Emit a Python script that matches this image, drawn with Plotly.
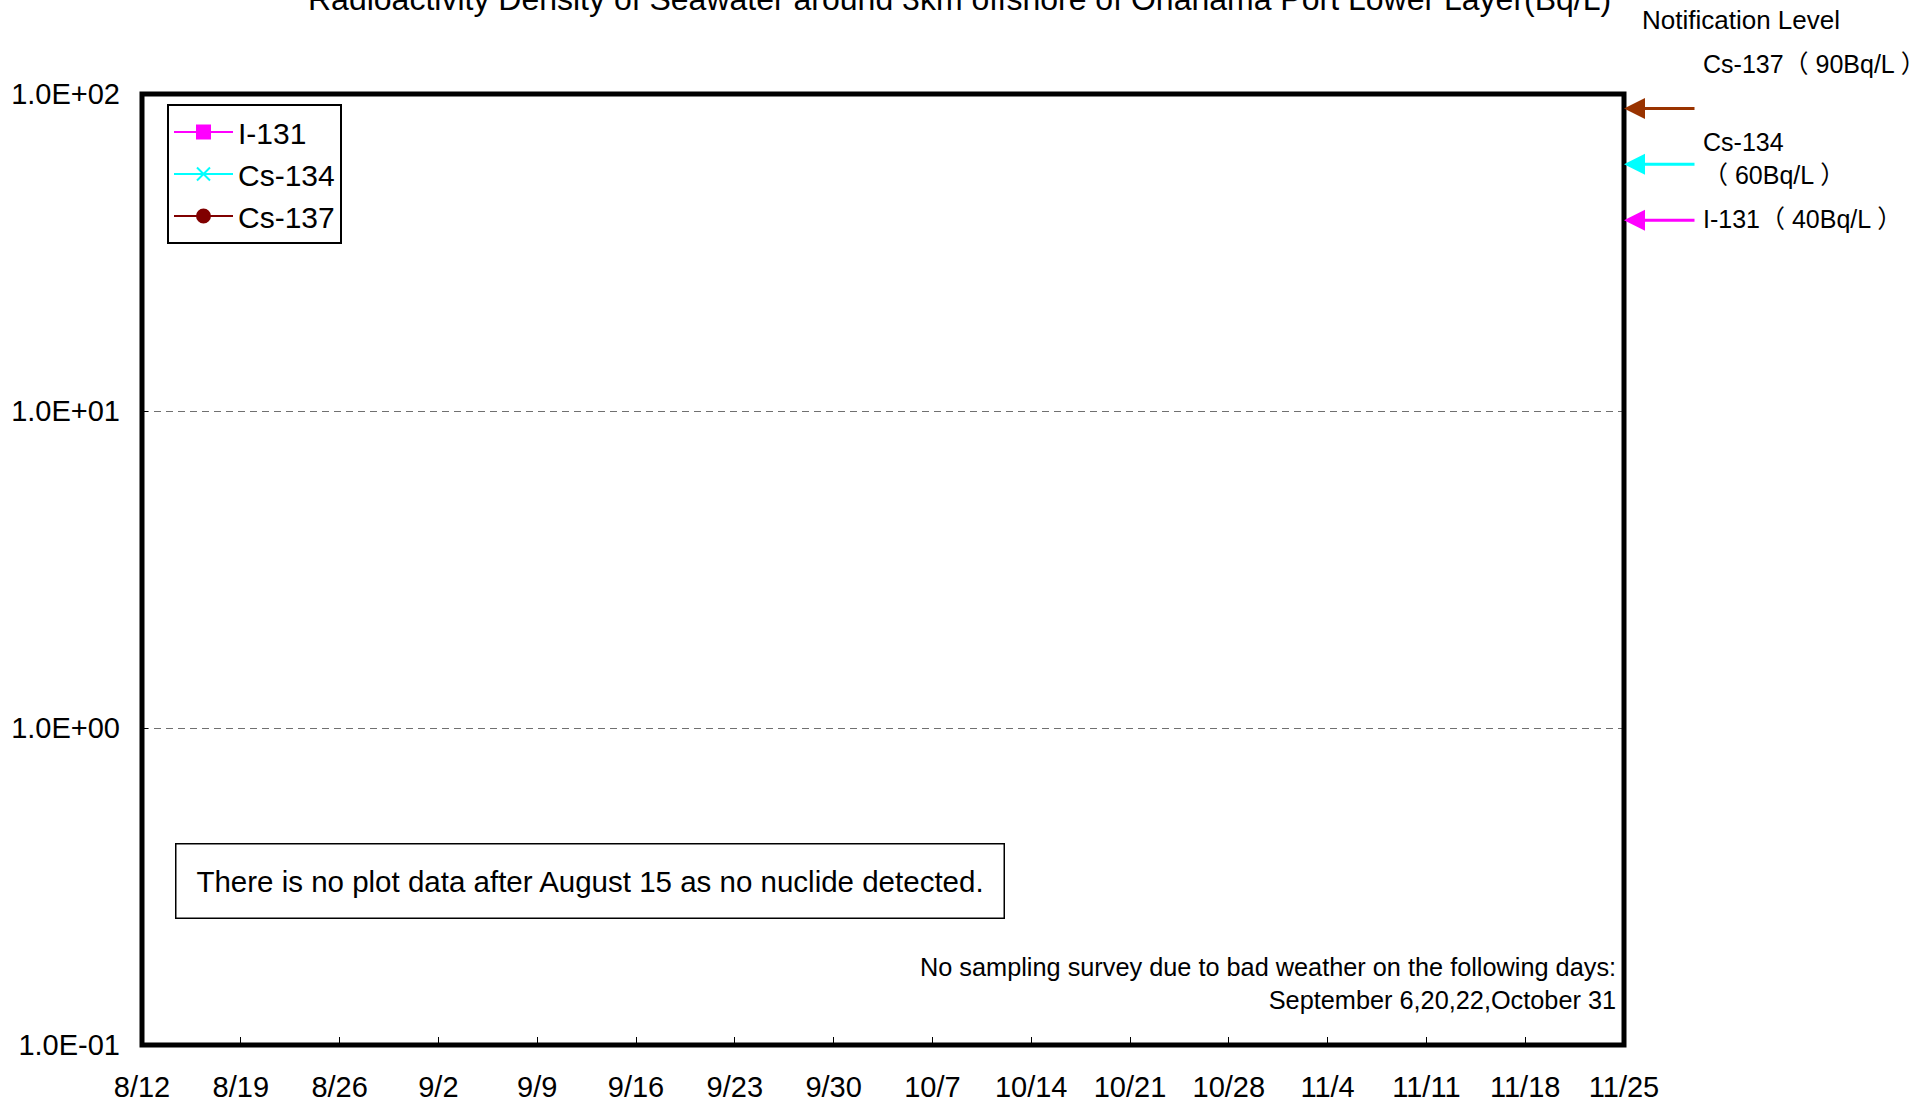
import math
import plotly.graph_objects as go

# ---------------- data ----------------
title_text = "Radioactivity Density of Seawater around 3km offshore of Onahama Port Lower Layer(Bq/L)"
series_names = ["I-131", "Cs-134", "Cs-137"]
# No nuclide detected after August 15 -> no plotted points in this window
i131_dates, i131_values = [None], [None]
cs134_dates, cs134_values = [None], [None]
cs137_dates, cs137_values = [None], [None]

x_tick_dates = ["2011-08-12", "2011-08-19", "2011-08-26", "2011-09-02", "2011-09-09",
                "2011-09-16", "2011-09-23", "2011-09-30", "2011-10-07", "2011-10-14",
                "2011-10-21", "2011-10-28", "2011-11-04", "2011-11-11", "2011-11-18",
                "2011-11-25"]
x_tick_labels = ["8/12", "8/19", "8/26", "9/2", "9/9", "9/16", "9/23", "9/30", "10/7",
                 "10/14", "10/21", "10/28", "11/4", "11/11", "11/18", "11/25"]
y_tick_vals = [0.1, 1, 10, 100]
y_tick_labels = ["1.0E-01", "1.0E+00", "1.0E+01", "1.0E+02"]

notif_nuclides = ["Cs-137", "Cs-134", "I-131"]
notif_levels = [90, 60, 40]
notif_labels = ["Cs-137（ 90Bq/L ）", "Cs-134<br>（ 60Bq/L ）", "I-131（ 40Bq/L ）"]

note_text = "There is no plot data after August 15 as no nuclide detected."
weather_text = "No sampling survey due to bad weather on the following days:<br>September 6,20,22,October 31"

# ---------------- layout helpers ----------------
FONT = "Liberation Sans, Arial, Noto Sans CJK JP, sans-serif"
W, H = 1932, 1105
L, R, T, B = 142, 308, 94, 60
PW, PH = W - L - R, H - T - B


def pxx(x):
    return (x - L) / PW


def pxy(y):
    return (H - B - y) / PH


colors = {"I-131": "#FF00FF", "Cs-134": "#00FFFF", "Cs-137": "#800000"}
arrow_colors = {"Cs-137": "#993300", "Cs-134": "#00FFFF", "I-131": "#FF00FF"}
symbols = {"I-131": "square", "Cs-134": "x-thin-open", "Cs-137": "circle"}

fig = go.Figure()
for name, xs, ys in [("I-131", i131_dates, i131_values),
                     ("Cs-134", cs134_dates, cs134_values),
                     ("Cs-137", cs137_dates, cs137_values)]:
    fig.add_trace(go.Scatter(
        x=xs, y=ys, name=name, mode="lines+markers",
        line=dict(color=colors[name], width=2),
        marker=dict(symbol=symbols[name], size=13, color=colors[name],
                    line=dict(color=colors[name], width=2)),
    ))

annotations = []
# title (cut at top as in reference)
annotations.append(dict(text=title_text, xref="paper", yref="paper",
                        x=pxx(959), y=pxy(-1), xanchor="center", yanchor="middle",
                        showarrow=False, font=dict(size=32, color="black", family=FONT)))
annotations.append(dict(text="Notification Level", xref="paper", yref="paper",
                        x=pxx(1640), y=pxy(20), xanchor="left", yanchor="middle",
                        showarrow=False, font=dict(size=26, color="black", family=FONT)))
label_y = {"Cs-137": 64, "Cs-134": 158, "I-131": 219}
for nuc, lvl, lab in zip(notif_nuclides, notif_levels, notif_labels):
    annotations.append(dict(text="", xref="paper", yref="y", x=1, y=math.log10(lvl),
                            ax=72, ay=0, axref="pixel", ayref="pixel",
                            showarrow=True, arrowhead=2, arrowsize=1.4, arrowwidth=3,
                            arrowcolor=arrow_colors[nuc]))
    annotations.append(dict(text=lab, xref="paper", yref="paper",
                            x=pxx(1701), y=pxy(label_y[nuc]), xanchor="left",
                            yanchor="middle", align="left", showarrow=False,
                            font=dict(size=25, color="black", family=FONT)))
annotations.append(dict(text=note_text, xref="paper", yref="paper",
                        x=pxx(589.5), y=pxy(880.5), xanchor="center", yanchor="middle",
                        width=825, height=71, borderpad=1, borderwidth=1.5,
                        bordercolor="black", bgcolor="white", showarrow=False,
                        font=dict(size=29.5, color="black", family=FONT)))
annotations.append(dict(text=weather_text, xref="paper", yref="paper",
                        x=pxx(1618), y=pxy(983), xanchor="right", yanchor="middle",
                        align="right", showarrow=False,
                        font=dict(size=25.3, color="black", family=FONT)))

fig.update_layout(
    width=W, height=H,
    margin=dict(l=L, r=R, t=T, b=B, pad=0, autoexpand=False),
    paper_bgcolor="white", plot_bgcolor="white",
    font=dict(family=FONT, size=29, color="black"),
    showlegend=True,
    legend=dict(x=pxx(167), y=pxy(104), xanchor="left", yanchor="top",
                bgcolor="white", bordercolor="black", borderwidth=2,
                font=dict(size=30, family=FONT, color="black"),
                itemwidth=59, tracegroupgap=0),
    annotations=annotations,
    shapes=[dict(type="rect", xref="paper", yref="paper", x0=0, x1=1, y0=0, y1=1,
                 line=dict(color="black", width=5), layer="above")],
)
fig.update_xaxes(type="date", range=[x_tick_dates[0], x_tick_dates[-1]],
                 tickvals=x_tick_dates, ticktext=x_tick_labels,
                 ticks="inside", ticklen=8, tickwidth=1, tickcolor="black",
                 ticklabelstandoff=22, showgrid=False, zeroline=False, showline=False,
                 automargin=False,
                 tickfont=dict(size=29, family=FONT, color="black"))
fig.update_yaxes(type="log", range=[-1, 2],
                 tickvals=y_tick_vals, ticktext=y_tick_labels,
                 ticks="inside", ticklen=6, tickwidth=1, tickcolor="black",
                 ticklabelstandoff=21, showgrid=True, gridcolor="#707070",
                 gridwidth=1, griddash="7px,5px", zeroline=False, showline=False,
                 automargin=False,
                 tickfont=dict(size=29, family=FONT, color="black"))

fig.write_html("out.html", config={"displayModeBar": False},
               post_script="document.body.style.margin='0px';"
                           "document.body.style.overflow='hidden';")
